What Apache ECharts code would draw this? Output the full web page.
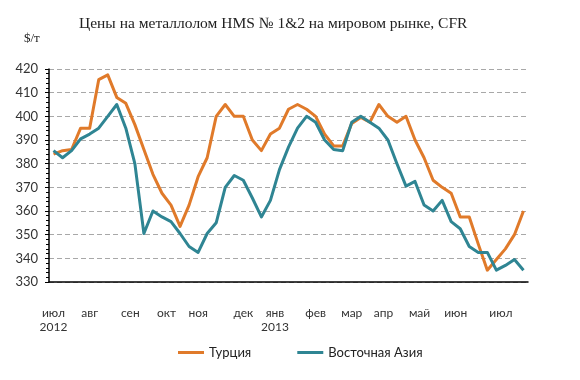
<!DOCTYPE html>
<html>
<head>
<meta charset="utf-8">
<script src="https://cdn.jsdelivr.net/npm/echarts@6/dist/echarts.min.js"></script>
<style>
html,body{margin:0;padding:0;background:#fff;}
#chart{width:580px;height:380px;}
</style>
</head>
<body>
<div id="chart"></div>
<script>
// ---- data ----
var weeks = [];
for (var k = 0; k < 53; k++) { weeks.push('w' + (k + 1)); }

var turkey = [384, 385.5, 386, 395, 395, 415.5, 417.5, 408, 405.5, 396.5, 386, 375.5, 367.5, 362.5, 353.5, 362.5, 374.5, 382.5, 400, 405, 400, 400, 390, 385.5, 392.5, 395, 403, 405, 403, 400, 392.5, 387.5, 387.5, 397, 399.5, 397.5, 405, 400, 397.5, 400, 390, 382.5, 373, 370, 367.5, 357.5, 357.5, 346, 335, 339.5, 344, 350, 360];

var eastAsia = [385.5, 382.5, 385.5, 390.5, 392.5, 395, 400, 405, 395, 380, 350.5, 360, 357.5, 355.5, 350.5, 345, 342.5, 350.5, 355, 370, 375, 373, 365.5, 357.5, 364.5, 377.5, 387, 395, 400, 397.5, 390, 386, 385.5, 397.5, 400, 397.5, 395, 390, 380, 370.5, 372.5, 362.5, 360, 364.5, 355.5, 352.5, 345, 342.5, 342.5, 335, 337, 339.5, 335];

var monthLabels = ['июл\n2012', 'авг', 'сен', 'окт', 'ноя', 'дек', 'янв\n2013', 'фев', 'мар', 'апр', 'май', 'июн', 'июл'];
var monthAtWeek = [0, 4, 8.5, 12.5, 16, 21, 24.5, 29, 33, 36.5, 40.5, 44.5, 49.5];

var seriesNames = ['Турция', 'Восточная Азия'];

// half-week slots for the month label axis
var slots = [];
for (var s = 0; s < weeks.length * 2 + 1; s++) { slots.push(''); }
monthAtWeek.forEach(function (w, i) { slots[Math.round(w * 2 + 1)] = monthLabels[i]; });

var chart = echarts.init(document.getElementById('chart'), null, {renderer: 'canvas'});
chart.setOption({
  animation: false,
  backgroundColor: '#ffffff',
  title: [
    {
      text: 'Цены на металлолом HMS № 1&2 на мировом рынке, CFR',
      left: 74, top: 11,
      textStyle: {fontFamily: 'Liberation Serif', fontSize: 15.5, fontWeight: 'normal', color: '#222'}
    },
    {
      text: '$/т',
      left: 19, top: 27,
      textStyle: {fontFamily: 'Liberation Serif', fontSize: 13, fontWeight: 'normal', color: '#222'}
    }
  ],
  legend: {
    data: seriesNames,
    left: 173, top: 341,
    itemWidth: 26, itemHeight: 3, itemGap: 46,
    icon: 'rect',
    textStyle: {fontFamily: 'Lato', fontSize: 13, color: '#222'}
  },
  grid: {left: 49, right: 52, top: 69, bottom: 98, containLabel: false},
  xAxis: [
    {
      type: 'category', data: weeks, boundaryGap: true,
      position: 'bottom',
      axisLine: {show: true, lineStyle: {color: '#000', width: 1.5}},
      axisTick: {show: false},
      axisLabel: {show: false},
      splitLine: {show: false}
    },
    {
      type: 'category', data: slots, boundaryGap: false,
      position: 'bottom', offset: 0,
      axisLine: {show: false},
      axisTick: {show: false},
      splitLine: {show: false},
      axisLabel: {
        interval: 0, margin: 24, lineHeight: 14,
        fontFamily: 'Lato', fontSize: 12, color: '#333'
      }
    }
  ],
  yAxis: {
    type: 'value', min: 330, max: 420, interval: 10,
    axisLine: {show: true, lineStyle: {color: '#000', width: 1.5}},
    axisTick: {show: true, length: 4, lineStyle: {color: '#000'}},
    minorTick: {show: true, splitNumber: 5, length: 3, lineStyle: {color: '#000'}},
    axisLabel: {margin: 11, fontFamily: 'Lato', fontSize: 13, color: '#333'},
    splitLine: {show: true, lineStyle: {color: '#A8A8A8', type: [5, 3], width: 1}}
  },
  series: [
    {
      name: seriesNames[0], type: 'line', data: turkey, xAxisIndex: 0,
      symbol: 'none', smooth: false,
      lineStyle: {color: '#E07A2A', width: 3, join: 'round'},
      itemStyle: {color: '#E07A2A'}
    },
    {
      name: seriesNames[1], type: 'line', data: eastAsia, xAxisIndex: 0,
      symbol: 'none', smooth: false,
      lineStyle: {color: '#2F8593', width: 3, join: 'round'},
      itemStyle: {color: '#2F8593'}
    }
  ]
});
</script>
</body>
</html>
